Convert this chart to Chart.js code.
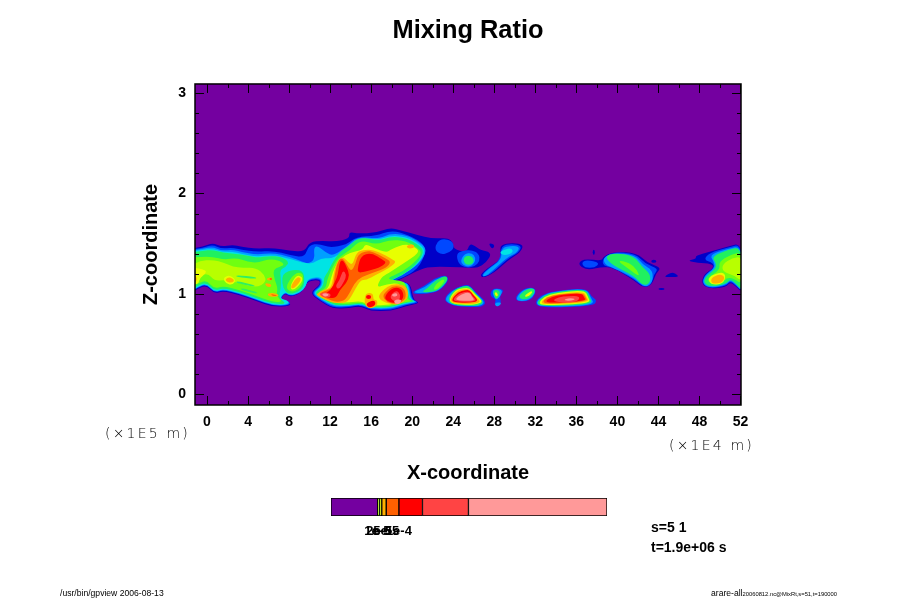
<!DOCTYPE html>
<html><head><meta charset="utf-8">
<script src="https://cdn.jsdelivr.net/npm/chart.js@4/dist/chart.umd.js"></script>
<style>
html,body{margin:0;padding:0;background:#fff;width:900px;height:600px;overflow:hidden}
#wrap{position:relative;width:900px;height:600px}
canvas{position:absolute}
.t{position:absolute;white-space:pre;color:#000;font-family:"Liberation Sans",sans-serif;line-height:1}
.unit{font-family:"DejaVu Sans";font-weight:200;font-size:14px;letter-spacing:2.2px;color:#000}
.b{font-weight:bold;font-size:14px}
.f{font-size:8.6px}
</style></head><body>
<div id="wrap">
<canvas id="main" width="900" height="600" style="left:0;top:0;width:900px;height:600px"></canvas>
<canvas id="bar" width="340" height="50" style="left:300px;top:490px;width:340px;height:50px"></canvas>
<span class="t unit" style="left:105px;top:426px">(×1E5 m)</span>
<span class="t unit" style="left:669px;top:438px">(×1E4 m)</span>
<span class="t b" style="left:651px;top:520px">s=5 1</span>
<span class="t b" style="left:651px;top:540px">t=1.9e+06 s</span>
<span class="t f" style="left:60px;top:589px">/usr/bin/gpview 2006-08-13</span>
<span class="t f" style="left:711px;top:589px">arare-all<span style="font-size:5.8px">20060812.nc@MixRt,s=51,t=190000</span></span>
</div>
<script>
const chartTitle = "Mixing Ratio";
const xTitle = "X-coordinate";
const zTitle = "Z-coordinate";
const xTicks = [0,2,4,6,8,10,12,14,16,18,20,22,24,26,28,30,32,34,36,38,40,42,44,46,48,50,52];
const xLabelled = [0,4,8,12,16,20,24,28,32,36,40,44,48,52];
const zTicks = [0,0.2,0.4,0.6,0.8,1,1.2,1.4,1.6,1.8,2,2.2,2.4,2.6,2.8,3];
const zLabelled = [0,1,2,3];
const xRange = [-1.17,52.05];
const zRange = [-0.105,3.09];

const darkBlue = [
 [-1.71,1.45,-.41,1.47,.57,1.51,1.38,1.47,2.52,1.49,3.33,1.47,4.8,1.45,6.42,1.46,8.05,1.43,9.5,1.42,10,1.52,11.3,1.53,12.44,1.52,13.9,1.55,13.83,1.62,14.7,1.6,16.5,1.61,17.8,1.66,19.1,1.63,20.4,1.59,22,1.55,23.5,1.56,24,1.51,24,1.45,25.3,1.41,25.6,1.5,26.1,1.48,26.6,1.44,27.8,1.41,27.2,1.31,26.4,1.26,25.6,1.26,23.7,1.27,21.7,1.27,20.7,1.24,19.1,1.16,18.3,1.12,19.4,1.12,19.9,1.08,20.1,.94,20.8,.91,19.4,.88,18,.83,15.85,.83,15,.88,13.9,.86,12.3,.85,11,.93,10,1.01,11,1.09,11,1.14,9.83,1.13,9.5,1.06,9,1,8.05,.97,7.56,1.01,7.13,.94,8.05,.92,8.15,.88,6.42,.87,4.8,.93,3.17,.99,1.54,1.03,.73,1,-.08,1.09,-1.12,1.04,-1.71,1],
 [28.6,1.49,29.8,1.51,30.9,1.49,30.5,1.41,29.4,1.34,28,1.21,26.9,1.16,26.6,1.19,27.4,1.26,28.6,1.34,28.6,1.42],
 [27.4,1.51,28.1,1.49,27.8,1.44],
 [37.6,1.44,37.8,1.44,37.8,1.39,37.6,1.39],
 [36.2,1.31,36.8,1.35,38.5,1.33,38.6,1.37,39.6,1.42,41.9,1.41,42.9,1.31,44.3,1.26,43.8,1.21,43.35,1.09,42.5,1.06,41.6,1.14,39.6,1.26,38.5,1.27,37.3,1.24,36.5,1.26],
 [44.5,1.17,45.3,1.22,45.9,1.19,45.9,1.17,45.1,1.17],
 [44,1.06,44.6,1.06,44.6,1.04,44,1.04],
 [43.3,1.34,43.8,1.34,43.8,1.31,43.3,1.31],
 [46.8,1.33,47.7,1.35,47.6,1.38,49,1.42,50.7,1.47,52.2,1.51,52.2,1.01,51.6,1.07,51,1.12,50.6,1.07,49,1.05,48.2,1.1,48.4,1.19,49.4,1.26,49.2,1.3,47.8,1.31]
];
const blue = [
 [-1.71,1.44,-.41,1.46,.57,1.49,1.38,1.45,2.52,1.46,3.33,1.44,4.8,1.42,6.42,1.43,8.05,1.39,9.5,1.36,9.93,1.49,11,1.5,11.95,1.46,13.6,1.49,14.55,1.57,16.5,1.58,17.8,1.63,19.1,1.61,20.9,1.52,21.4,1.43,20.6,1.25,19.1,1.165,18.1,1.125,19.4,1.115,19.8,1.08,20,.94,20.7,.915,19.4,.89,18,.84,15.9,.84,15,.89,13.9,.87,12.3,.86,11.05,.935,10.1,1.01,11.05,1.085,11.05,1.15,9.83,1.14,9.55,1.065,9.03,1.005,8.05,.975,7.6,1.015,7.08,.945,8.07,.925,8.1,.885,6.42,.88,4.8,.94,3.17,1,1.54,1.04,.73,1.01,-.08,1.1,-1.12,1.05,-1.71,1.01],
 [22.4,1.52,23,1.55,23.9,1.53,24.1,1.46,23.6,1.41,22.8,1.39,22.2,1.44],
 [24.3,1.4,24.9,1.43,25.8,1.44,26.5,1.4,26.6,1.33,26.1,1.27,25.2,1.26,24.5,1.3],
 [28.65,1.48,29.7,1.5,30.7,1.48,30.35,1.41,29.3,1.35,27.85,1.21,27,1.17,26.75,1.19,27.5,1.26,28.6,1.34],
 [48.4,1.34,49,1.41,50.7,1.46,52.2,1.5,52.2,1.02,51.6,1.08,51,1.13,50.6,1.08,49,1.055,48.25,1.1,48.45,1.185,49.45,1.26,49.3,1.31],
 [38.55,1.35,39.6,1.42,41.8,1.4,42.7,1.3,44,1.25,43.6,1.2,43.3,1.09,42.55,1.065,41.6,1.15,39.6,1.26,38.6,1.28],
 [36.5,1.31,37,1.34,38.3,1.31,37.8,1.26,36.8,1.26],
 [23.3,1.19,23.6,1.14,22.7,1.03,21.4,1,20.1,1,20.1,1.03,21.05,1.07,22.2,1.16],
 [23,.94,23.8,1.04,25,1.09,25.6,1.09,26.25,1.01,27.25,.92,26.8,.87,25.6,.87,24,.88],
 [27.7,1.04,28.2,1.06,29,1.04,28.5,.98,28.7,.91,28.2,.88,28,.91,28.2,.94,27.6,.98],
 [29.9,.94,30.6,1.04,31.6,1.07,32.1,1.04,31.8,.96,31,.92],
 [31.9,.91,32.6,.99,33.8,1.03,37,1.06,37.5,.97,38,.94,37.7,.88,32.6,.86]
];
const azure = [
 [-1.71,1.43,-.41,1.45,.57,1.47,1.38,1.43,2.52,1.44,3.33,1.42,4.8,1.39,6.42,1.41,8.05,1.37,9.35,1.32,9.83,1.3,10.5,1.34,10.4,1.46,10.8,1.48,11.6,1.41,12.3,1.38,13.6,1.47,14.7,1.57,16.8,1.55,17.8,1.6,19.4,1.59,20.9,1.505,21.45,1.43,20.7,1.3,19.1,1.19,17.8,1.135,19.3,1.12,19.7,1.085,19.9,.94,20.6,.92,19.2,.895,17.9,.85,16,.85,15,.895,13.9,.88,12.35,.87,11.15,.94,10.2,1.01,11.15,1.08,11.15,1.16,9.83,1.15,9.6,1.07,9.05,1.01,8.05,.98,7.62,1.02,7.05,.95,7.98,.93,8.02,.89,6.42,.885,4.8,.945,3.17,1.005,1.54,1.045,.73,1.015,-.08,1.105,-1.12,1.055,-1.71,1.015],
 [24.7,1.33,25.1,1.4,25.8,1.41,26.2,1.36,26.05,1.3,25.6,1.27,25,1.28],
 [23.3,1.18,23.5,1.14,22.6,1.03,21.4,1.01,20.25,1.01,20.25,1.03,21.15,1.06,22.3,1.15],
 [28.7,1.46,29.7,1.48,30.5,1.47,30.2,1.41,29.2,1.36,27.75,1.22,27,1.17,26.85,1.19,27.6,1.26,28.7,1.34],
 [38.6,1.36,39.6,1.41,41.7,1.39,42.5,1.29,43.35,1.24,43.5,1.16,43.2,1.09,42.6,1.07,41.6,1.16,39.6,1.26,38.8,1.29],
 [49,1.39,50.7,1.45,52.2,1.48,52.2,1.02,51.6,1.09,51,1.14,50.6,1.09,49.1,1.06,48.3,1.1,48.5,1.18,49.5,1.26,49.4,1.32],
 [23.1,.94,23.9,1.035,25,1.08,25.6,1.08,26.2,1.005,27.1,.92,26.7,.88,25.6,.88,24,.885],
 [27.75,1.035,28.25,1.055,28.85,1.035,28.5,.96,28.1,.94],
 [30,.94,30.7,1.035,31.6,1.065,32.05,1.04,31.75,.965,31,.925],
 [32,.91,32.7,.985,33.8,1.025,36.95,1.055,37.4,.97,37.8,.885,32.6,.87],
 [28,.91,28.7,.92,28.6,.89,28.2,.87]
];
const cyan = [
 [-1.71,1.42,-.41,1.44,.57,1.45,1.38,1.42,2.52,1.42,3.33,1.4,4.8,1.37,6.42,1.39,8.05,1.35,9.35,1.31,10.3,1.3,11.15,1.36,12.3,1.35,13.7,1.46,14.8,1.56,16.8,1.54,17.8,1.58,19.4,1.57,20.8,1.495,21.3,1.425,20.6,1.3,19.1,1.185,17.7,1.13,19.3,1.11,19.6,1.085,19.8,.94,20.5,.925,19.1,.9,17.85,.86,16,.86,15,.9,13.9,.885,12.4,.88,11.2,.945,10.3,1.01,11.25,1.075,11.25,1.17,9.83,1.16,9.65,1.075,9.08,1.015,8.05,.985,7.65,1.025,7.03,.955,7.9,.935,7.92,.895,6.42,.89,4.8,.95,3.17,1.01,1.54,1.05,.73,1.02,-.08,1.11,-1.12,1.06,-1.71,1.02],
 [28.9,1.44,29.7,1.46,29.85,1.41,29,1.38,28.5,1.41]
];
const green = [
 [-1.71,1.41,-.41,1.43,.57,1.44,1.54,1.41,2.84,1.4,4,1.38,4.95,1.36,6.1,1.38,7.24,1.37,8,1.32,7.7,1.27,7.1,1.24,7.2,1.16,7.2,1.06,7,.96,7.8,.9,6.42,.9,4.8,.96,3.17,1.02,1.54,1.06,.73,1.03,-.08,1.12,-1.12,1.07,-1.71,1.03],
 [7.4,1.22,9.35,1.25,9.55,1.11,9.1,1.03,8.05,.995,7.6,1.03,7.3,1.1],
 [12.1,1.29,12.93,1.42,13.75,1.47,14.85,1.57,16.8,1.53,17.8,1.57,19.4,1.56,20.75,1.48,21.15,1.42,20.5,1.3,19,1.18,17.5,1.125,19.3,1.105,19.5,1.085,19.7,.94,20.4,.93,19.05,.905,17.85,.865,16,.865,15,.905,13.9,.89,12.45,.885,11.25,.95,10.4,1.01,11.35,1.07,11.4,1.17,11.8,1.22],
 [24.95,1.34,25.2,1.38,25.8,1.38,26.05,1.33,25.8,1.29,25.2,1.29],
 [23.3,1.185,23.5,1.14,22.6,1.04,21.6,1.015,20.9,1.02,21.5,1.06,22.3,1.14],
 [38.75,1.37,39.7,1.41,41.6,1.38,42.4,1.27,43.2,1.2,43.2,1.11,42.55,1.08,41.6,1.18,39.6,1.28],
 [49.2,1.37,50.7,1.44,52.2,1.47,52.2,1.03,51.6,1.1,51,1.15,50.6,1.1,49.1,1.07,48.4,1.11,48.6,1.17,49.6,1.25,49.6,1.31],
 [23.4,.94,24.05,1.04,25,1.08,25.6,1.08,26.2,1,27,.92,26.5,.885,25.6,.88,24,.89],
 [27.85,1.025,28.2,1.045,28.6,1.025,28.4,.96,28.1,.95],
 [30.3,.965,30.85,1.03,31.6,1.06,32,1.04,31.7,.975,31,.94],
 [32.1,.91,32.75,.98,33.85,1.02,36.9,1.05,37.3,.97,37.6,.895,32.65,.875]
];
const lime = [
 [-1.71,1.36,-.73,1.37,.57,1.37,1.7,1.34,2.84,1.36,4,1.32,4.95,1.31,6.1,1.35,7.13,1.33,7.56,1.29,7.07,1.27,6.42,1.24,6.6,1.14,6.9,1.06,6.75,.98,7.4,.92,6.42,.92,4.8,.98,3.17,1.04,1.54,1.08,.73,1.05,-.08,1.14,-.9,1.1,-1.71,1.08],
 [7.56,1.06,8.53,1.21,9.4,1.21,9.35,1.09,8.44,1.01],
 [12.76,1.36,13.9,1.43,14.94,1.54,16.5,1.49,17.8,1.54,19.4,1.53,20.5,1.46,20.95,1.41,20.4,1.33,19.1,1.22,17.3,1.15,19.1,1.13,19.4,1.09,19.5,.94,20.1,.93,19.1,.915,17.8,.875,16,.875,15,.915,13.9,.9,12.6,.9,11.5,.96,10.7,1.01,11.6,1.06,11.7,1.14,12.1,1.24],
 [39.9,1.34,41.2,1.31,41.9,1.24,42.2,1.17,41.2,1.24],
 [49.9,1.32,51,1.39,52.2,1.42,52.2,1.09,51.3,1.16,50.6,1.16,50.5,1.13,49.2,1.1,48.8,1.13,48.9,1.17,50,1.24],
 [23,1.15,23.2,1.13,22.5,1.05,22.05,1.04,22.3,1.1]
];
const yellowGreen = [
 [-1.71,1.27,-.73,1.33,.57,1.34,1.7,1.31,2.52,1.27,3.5,1.26,4.8,1.26,5.6,1.19,5.77,1.12,4.8,1.06,3.17,1.11,1.87,1.14,.73,1.13,.08,1.21,-.9,1.17,-1.71,1.22],
 [50.2,1.29,51.2,1.36,52.2,1.37,52.2,1.12,51.3,1.19,50.3,1.22]
];
const greenStrips = [
 [2.84,1.19,4.8,1.17,4.8,1.15,2.84,1.17],
 [2.84,1.13,4.65,1.09,4.65,1.07,2.84,1.11],
 [3.3,1.06,4.9,1.02,4.9,1,3.3,1.04]
];
const yellow = [
 [1.54,1.16,2.2,1.19,2.84,1.14,2.5,1.09,1.87,1.1],
 [-1.71,1.26,-1.2,1.26,-.2,1.24,-.06,1.21,-.7,1.16,-.8,1.11,-1.2,1.09,-1.71,1.09],
 [8.05,1.07,8.7,1.19,9.35,1.17,9.2,1.11,8.4,1.03],
 [13.1,1.36,13.9,1.41,15.2,1.44,15.4,1.5,16.2,1.46,17.5,1.41,18,1.45,19.4,1.5,20.4,1.46,20.7,1.41,19.1,1.3,17.6,1.2,17,1.17,16.5,1.06,17.5,1.1,18.9,1.11,19.3,.99,19.4,.935,17.8,.89,16,.885,15,.93,13.9,.915,12.6,.915,11.6,.97,10.9,1.01,11.8,1.05,12.1,1.16,12.45,1.27],
 [48.8,1.17,50.1,1.22,50.6,1.19,50.3,1.1,49.1,1.09],
 [28,1.01,28.2,1.02,28.4,.99,28.2,.97],
 [31,.99,31.6,1.03,31.75,1.02,31.4,.98,31,.97],
 [32.3,.91,32.9,.975,34,1.01,36.8,1.04,37.15,.97,37.4,.905,32.8,.885],
 [23.55,.94,24.2,1.04,25,1.06,25.6,1.06,26.1,1,26.9,.925,26.4,.9,25.6,.89,24,.9]
];
const orange = [
 [1.77,1.15,2.2,1.17,2.7,1.14,2.45,1.11,1.93,1.12],
 [-1.71,1.19,-1.15,1.19,-.95,1.15,-1.15,1.11,-1.71,1.11],
 [5.83,1.16,6.35,1.17,6.26,1.13,5.83,1.14],
 [5.6,1.11,6.26,1.1,6.26,1.07,5.83,1.07],
 [5.93,1.01,6.75,1.01,7.07,.98,6.42,.97,5.93,.98],
 [8.1,1.07,8.76,1.17,9.2,1.16,9,1.11,8.4,1.05],
 [10.65,1,11.3,1.04,12.1,1.06,12.3,1.17,12.6,1.31,13.2,1.38,13.8,1.31,14.2,1.29,14.55,1.41,15.2,1.44,16.2,1.44,17.5,1.38,18.1,1.34,18.45,1.32,17.8,1.26,16.5,1.19,15.5,1.14,15,1.14,14.5,1.06,14.1,.98,13.6,.91,12.3,.91,11.6,.94,10.8,.98],
 [19.4,1.48,20.1,1.5,20.25,1.46,19.6,1.45],
 [16.7,.98,17.15,1.04,18,1.1,19.4,1.09,19.7,.98,19.2,.92,18.45,.89,17.5,.91,16.9,.94],
 [15.4,1.01,16.2,1.01,16.2,.94,16.6,.94,16.6,.88,15.85,.85,15.35,.89],
 [49.1,1.16,50,1.2,50.5,1.17,50.2,1.11,49.2,1.1],
 [23.65,.94,24.3,1.03,25.1,1.05,25.6,1.05,26,.99,26.7,.925,26.25,.905,25.6,.9,24,.905],
 [32.5,.915,33.1,.97,34.15,1,36.7,1.025,37,.97,37.25,.915,33,.895]
];
const darkOrange = [
 [11,1.01,11.8,1.04,12.3,1.07,12.45,1.19,12.76,1.33,13.2,1.36,13.64,1.29,14.05,1.22,14.45,1.29,14.7,1.39,15.5,1.43,16.2,1.42,17.3,1.36,17.95,1.32,17.5,1.26,16.2,1.21,15,1.17,14.4,1.11,13.9,1.01,13.4,.93,12.45,.92,11.8,.95,11.1,.98],
 [17.1,.98,17.5,1.03,18.1,1.08,19.2,1.07,19.45,.97,19,.92,18.3,.9,17.5,.92],
 [6.1,1.16,6.35,1.16,6.35,1.14,6.1,1.14],
 [6.2,1,6.7,.99,6.85,.98,6.4,.98],
 [32.7,.925,33.2,.97,34.2,.995,36.6,1.015,36.9,.97,37.1,.925,33.1,.9]
];
const red = [
 [11.15,.98,12.1,1.04,12.5,1.13,12.76,1.19,12.93,1.32,13.25,1.34,13.6,1.27,13.9,1.19,13.6,1.11,12.93,1.04,12.6,.96,11.8,.96,11.15,.99],
 [14.7,1.26,15,1.38,16,1.41,17.15,1.34,17.5,1.31,16.8,1.26,15.35,1.22,14.7,1.21],
 [17.3,.96,17.6,1.02,18.3,1.07,19,1.05,19.2,.97,18.8,.92,18.1,.91,17.6,.93],
 [15.5,.99,16,.99,16,.95,15.5,.95],
 [15.7,.92,16.35,.94,16.45,.89,15.85,.86,15.5,.89],
 [23.8,.94,24.45,1.02,25.2,1.04,25.6,1.04,25.95,.99,26.5,.93,25.6,.91,24.15,.915],
 [32.95,.93,33.6,.97,34.4,.99,36.5,1.01,36.75,.97,36.95,.93,33.4,.91]
];
const lightRed = [
 [12.5,1.08,12.93,1.14,13.25,1.24,13.6,1.19,13.4,1.13,12.85,1.04],
 [10.9,1,11.5,1.02,12.1,1,11.95,.96,11.3,.97],
 [17.8,.98,18.45,1.04,18.9,.99,18.7,.93,18.1,.93],
 [23.95,.945,24.6,1.01,25.6,1.03,25.85,.98,26.3,.935,25.6,.92,24.3,.925],
 [33.6,.93,34.25,.97,35.2,.98,36.35,.98,36.2,.93,35.05,.91]
];
const pink = [
 [11.15,1,11.6,1.01,11.95,.99,11.5,.97],
 [18,1,18.5,1.01,18.6,.98,18.1,.97],
 [18.2,.94,19,.95,18.8,.9,18.3,.9],
 [24.2,.95,24.8,1,25.6,1.02,25.8,.975,26.1,.94,25.6,.93,24.5,.935],
 [34.7,.94,35.3,.96,36,.95,35.4,.93]
];
const contourLevels = [darkBlue,blue,azure,cyan,green,lime,yellowGreen,greenStrips,yellow,orange,darkOrange,red,lightRed,pink];
const levelColors = ["#0000c8","#0048ff","#00a0ff","#00e4e4","#20f060","#70ff10","#b8ff00","#30f060","#e8ff00","#ffb000","#ff6000","#ff0000","#ff4444","#ff9999"];
const plotBackground = "#7400a0";

const barEdges = [0,0.169,0.176,0.184,0.2,0.246,0.3315,0.498,1];
const barColors = ["#7400a0","#b8ff00","#e8ff00","#ffb000","#ff6000","#ff0000","#ff4444","#ff9999"];
const barTicks = [0.168,0.175,0.2,0.246];
const barTickLabels = ["1e-5","2e-5","5e-5","1e-4"];

const toPoints = f => { const p=[]; for(let i=0;i<f.length;i+=2) p.push({x:f[i],y:f[i+1]}); return p; };
const datasets = [];
contourLevels.forEach((lvl,i)=>lvl.forEach(poly=>datasets.push({type:"scatter",data:toPoints(poly),backgroundColor:levelColors[i],pointRadius:0,showLine:false})));

const contourPlugin = {
  id:"contour",
  beforeDatasetsDraw(chart){
    const {ctx,chartArea:a}=chart;
    ctx.save();
    ctx.beginPath();ctx.rect(a.left,a.top,a.right-a.left,a.bottom-a.top);ctx.clip();
    ctx.fillStyle=plotBackground;ctx.fillRect(a.left,a.top,a.right-a.left,a.bottom-a.top);
    chart.data.datasets.forEach((d,i)=>{
      const pts=chart.getDatasetMeta(i).data, n=pts.length;
      ctx.beginPath();
      const mid=(p,q)=>({x:(p.x+q.x)/2,y:(p.y+q.y)/2});
      const start=mid(pts[n-1],pts[0]);
      ctx.moveTo(start.x,start.y);
      pts.forEach((p,k)=>{const m=mid(p,pts[(k+1)%n]);ctx.quadraticCurveTo(p.x,p.y,m.x,m.y);});
      ctx.closePath();ctx.fillStyle=d.backgroundColor;ctx.fill();
    });
    ctx.restore();
  },
  afterDatasetsDraw(chart){
    const {ctx,chartArea:a,scales:{x,y}}=chart;
    ctx.save();ctx.strokeStyle="#000";ctx.lineWidth=1;
    ctx.beginPath();
    const seg=(x1,y1,x2,y2)=>{ctx.moveTo(x1,y1);ctx.lineTo(x2,y2);};
    xTicks.forEach(v=>{const p=Math.round(x.getPixelForValue(v))+.5,l=xLabelled.includes(v)?9:4;seg(p,a.bottom,p,a.bottom-l);seg(p,a.top,p,a.top+l);});
    zTicks.forEach(v=>{const p=Math.round(y.getPixelForValue(v))+.5,l=zLabelled.includes(v)?9:4;seg(a.left,p,a.left+l,p);seg(a.right,p,a.right-l,p);});
    ctx.stroke();
    ctx.lineWidth=1.5;ctx.strokeRect(a.left,a.top,a.right-a.left,a.bottom-a.top);
    ctx.restore();
  }
};
const ff="'Liberation Sans',Arial,sans-serif";
new Chart(document.getElementById("main"),{
  type:"scatter",data:{datasets},plugins:[contourPlugin],
  options:{responsive:false,animation:false,devicePixelRatio:1,
    layout:{padding:{left:135,right:159,top:0,bottom:111}},
    plugins:{legend:{display:false},tooltip:{enabled:false},
      title:{display:true,text:chartTitle,fullSize:false,color:"#000",font:{family:ff,size:25.4,weight:"bold"},padding:{top:16,bottom:37.5}}},
    scales:{
      x:{type:"linear",min:xRange[0],max:xRange[1],
        afterBuildTicks:s=>{s.ticks=xLabelled.map(v=>({value:v}));},
        afterFit:s=>{s.height=84;},
        grid:{display:false},border:{display:false},
        ticks:{autoSkip:false,maxRotation:0,color:"#000",padding:1,font:{family:ff,size:14,weight:"bold"}},
        title:{display:true,text:xTitle,color:"#000",font:{family:ff,size:20,weight:"bold"},padding:4}},
      y:{type:"linear",min:zRange[0],max:zRange[1],
        afterBuildTicks:s=>{s.ticks=zLabelled.map(v=>({value:v}));},
        afterFit:s=>{s.width=60;},
        grid:{display:false},border:{display:false},
        ticks:{autoSkip:false,color:"#000",padding:1,font:{family:ff,size:14,weight:"bold"}},
        title:{display:true,text:zTitle,color:"#000",font:{family:ff,size:20,weight:"bold"},padding:4}}
    }}
});
const barSets = barColors.map((c,i)=>({data:[[barEdges[i],barEdges[i+1]]],backgroundColor:c,borderColor:"#000",borderWidth:1,barPercentage:1,categoryPercentage:1,grouped:false,borderSkipped:false}));
new Chart(document.getElementById("bar"),{
  type:"bar",data:{labels:[""],datasets:barSets},
  options:{indexAxis:"y",responsive:false,animation:false,devicePixelRatio:1,
    layout:{padding:{left:31,right:33,top:8,bottom:0}},
    plugins:{legend:{display:false},tooltip:{enabled:false}},
    scales:{
      y:{display:false},
      x:{type:"linear",min:0,max:1,
        afterBuildTicks:s=>{s.ticks=barTicks.map(v=>({value:v}));},
        afterFit:s=>{s.height=24;},
        grid:{display:false},border:{display:false},
        ticks:{autoSkip:false,maxRotation:0,color:"#000",padding:0,font:{family:ff,size:13,weight:"bold"},
          callback:(v,i)=>barTickLabels[i]}}
    }}
});
</script>
</body></html>
